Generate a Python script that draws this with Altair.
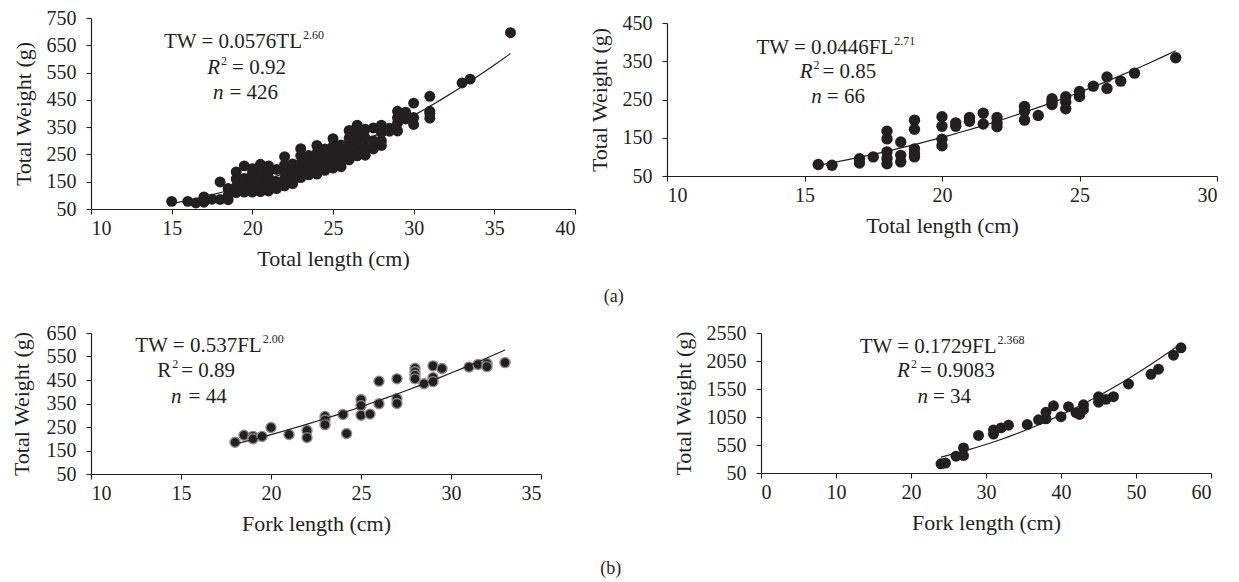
import altair as alt
import pandas as pd

INK = "#231f20"
SERIF = "Liberation Serif"

# ---- Panel (a) left: Total length vs Total weight (n = 426) ----
tl1_len = [15.0, 16.0, 16.5, 17.0, 17.0, 17.5, 18.0, 18.0, 18.5, 18.5, 18.5,
           19.0, 19.0, 19.0, 19.0, 19.5, 19.5, 19.5, 19.5,
           20.0, 20.0, 20.0, 20.0, 20.0, 20.5, 20.5, 20.5, 20.5, 20.5,
           21.0, 21.0, 21.0, 21.0, 21.0, 21.5, 21.5, 21.5,
           22.0, 22.0, 22.0, 22.0, 22.0, 22.5, 22.5, 22.5, 22.5,
           23.0, 23.0, 23.0, 23.0, 23.0, 23.5, 23.5, 23.5, 23.5,
           24.0, 24.0, 24.0, 24.0, 24.0, 24.5, 24.5, 24.5, 24.5,
           25.0, 25.0, 25.0, 25.0, 25.0, 25.5, 25.5, 25.5, 25.5,
           26.0, 26.0, 26.0, 26.0, 26.0, 26.5, 26.5, 26.5, 26.5, 26.5,
           27.0, 27.0, 27.0, 27.0, 27.5, 27.5, 27.5,
           28.0, 28.0, 28.0, 28.0, 28.5, 28.5,
           29.0, 29.0, 29.0, 29.0, 29.5, 29.5,
           30.0, 30.0, 30.0, 31.0, 31.0, 31.0, 31.0,
           33.0, 33.5, 36.0]
tw1_wt = [78, 78, 72, 75, 94, 86, 85, 149, 84, 100, 125,
          110, 132, 160, 186, 112, 136, 162, 208,
          112, 132, 156, 180, 198, 114, 140, 165, 190, 214,
          116, 140, 165, 186, 208, 125, 150, 195,
          135, 160, 185, 212, 242, 143, 165, 190, 215,
          165, 190, 215, 245, 271, 175, 198, 222, 246,
          178, 205, 230, 255, 283, 192, 220, 245, 270,
          200, 225, 252, 280, 308, 205, 235, 260, 285,
          230, 255, 285, 310, 338, 245, 272, 300, 330, 357,
          247, 276, 310, 342, 270, 300, 347,
          283, 300, 330, 357, 335, 346,
          336, 365, 385, 408, 380, 405,
          360, 385, 438, 383, 408, 400, 463,
          512, 526, 696]

# ---- Panel (a) right: Total length vs Total weight (n = 66) ----
tl2_len = [15.5, 16.0, 17.0, 17.0, 17.5, 18.0, 18.0, 18.0, 18.0, 18.0,
           18.5, 18.5, 18.5, 19.0, 19.0, 19.0, 19.0, 19.0,
           20.0, 20.0, 20.0, 20.0, 20.5, 20.5, 21.0, 21.0, 21.5, 21.5,
           22.0, 22.0, 22.0, 23.0, 23.0, 23.0, 23.5,
           24.0, 24.0, 24.0, 24.5, 24.5, 24.5, 25.0, 25.0, 25.5,
           26.0, 26.0, 26.5, 27.0, 28.5]
tw2_wt = [80, 78, 95, 84, 100, 167, 147, 113, 96, 82,
          139, 104, 87, 196, 172, 121, 108, 100,
          205, 180, 146, 129, 189, 180, 203, 193, 214, 186,
          203, 189, 179, 232, 219, 196, 208,
          252, 243, 237, 257, 243, 226, 271, 258, 285,
          309, 279, 298, 319, 359]

# ---- Panel (b) left: Fork length vs Total weight (n = 44) ----
fl3_len = [18.0, 18.5, 19.0, 19.0, 19.5, 20.0, 21.0, 22.0, 22.0,
           23.0, 23.0, 23.0, 24.0, 24.2, 25.0, 25.0, 25.0, 25.5,
           26.0, 26.0, 27.0, 27.0, 27.0, 28.0, 28.0, 28.0, 28.0,
           28.5, 29.0, 29.0, 29.0, 29.5, 31.0, 31.5, 32.0, 32.0, 33.0]
tw3_wt = [185, 215, 210, 200, 210, 248, 218, 235, 205,
          295, 280, 260, 303, 222, 367, 341, 300, 305,
          445, 349, 455, 370, 350, 500, 485, 470, 455,
          434, 510, 460, 443, 499, 505, 516, 520, 507, 524]

# ---- Panel (b) right: Fork length vs Total weight (n = 34) ----
fl4_len = [24.0, 24.6, 26.0, 27.0, 27.0, 29.0, 31.0, 31.0, 32.0, 33.0,
           35.5, 37.0, 38.0, 38.0, 39.0, 40.0, 41.0, 42.0, 42.5, 43.0, 43.0,
           45.0, 45.0, 46.0, 47.0, 49.0, 52.0, 53.0, 55.0, 56.0]
tw4_wt = [215, 228, 350, 497, 360, 721, 820, 745, 856, 903,
          915, 1000, 1135, 1018, 1250, 1055, 1234, 1126, 1095, 1268, 1185,
          1410, 1315, 1365, 1413, 1640, 1813, 1903, 2154, 2286]

# axis ticks
x1_ticks = [10, 15, 20, 25, 30, 35, 40]
y1_ticks = [50, 150, 250, 350, 450, 550, 650, 750]
x2_ticks = [10, 15, 20, 25, 30]
y2_ticks = [50, 150, 250, 350, 450]
x3_ticks = [10, 15, 20, 25, 30, 35]
y3_ticks = [50, 150, 250, 350, 450, 550, 650]
x4_ticks = [0, 10, 20, 30, 40, 50, 60]
y4_ticks = [50, 550, 1050, 1550, 2050, 2550]


def note(x, y, text, align="left", dx=0, dy=0, size=21, style="normal"):
    return dict(x=x, y=y, t=text, align=align, dx=dx, dy=dy, size=size, style=style)


def equation_notes(jx, y1, coef, sup, rx, y2, r_style, r_val, r_dx, nx, y3, n_val, n_dx):
    return [
        note(jx, y1, coef, align="right"),
        note(jx, y1, sup, align="left", dx=1, dy=-9, size=12),
        note(rx, y2, "R", align="right", style=r_style),
        note(rx, y2, "2", align="left", dx=1, dy=-9, size=12),
        note(rx, y2, "= " + r_val, align="left", dx=r_dx),
        note(nx, y3, "n", align="right", style="italic"),
        note(nx, y3, "= " + n_val, align="left", dx=n_dx),
    ]


def panel(xs, ys, xdom, ydom, xticks, yticks, w, h, xtitle, notes,
          stroke=None, size=120, yrange=None, ytitle_pad=11):
    df = pd.DataFrame({"x": xs, "y": ys})
    xenc = alt.X("x:Q", scale=alt.Scale(domain=xdom, nice=False, zero=False),
                 axis=alt.Axis(values=xticks, title=xtitle))
    yscale = (alt.Scale(domain=ydom, nice=False, zero=False, range=yrange)
              if yrange else alt.Scale(domain=ydom, nice=False, zero=False))
    yenc = alt.Y("y:Q", scale=yscale,
                 axis=alt.Axis(values=yticks, title="Total Weight (g)",
                               format="d", titlePadding=ytitle_pad))
    if stroke:
        pts = alt.Chart(df).mark_circle(size=size, fill=INK, fillOpacity=1,
                                        stroke=stroke, strokeWidth=1.4,
                                        opacity=1)
    else:
        pts = alt.Chart(df).mark_circle(size=size, color=INK, opacity=1)
    pts = pts.encode(x=xenc, y=yenc)
    fit = (alt.Chart(df)
           .transform_regression("x", "y", method="pow")
           .mark_line(color=INK, strokeWidth=1.2)
           .encode(x=xenc, y=yenc))
    layers = [pts, fit]
    for n in notes:
        tdf = pd.DataFrame({"x": [n["x"]], "y": [n["y"]], "t": [n["t"]]})
        layers.append(
            alt.Chart(tdf).mark_text(align=n["align"], baseline="alphabetic",
                                     dx=n["dx"], dy=n["dy"], font=SERIF,
                                     fontSize=n["size"], fontStyle=n["style"],
                                     color=INK)
            .encode(x=xenc, y=yenc, text="t:N"))
    return alt.layer(*layers).properties(width=w, height=h)


p1 = panel(tl1_len, tw1_wt, [10, 40], [50, 750], x1_ticks, y1_ticks, 484, 191,
           "Total length (cm)",
           equation_notes(23.08, 640, "TW = 0.0576TL", "2.60",
                          18.0, 546, "italic", "0.92", 12,
                          18.21, 454, "426", 6))
p2 = panel(tl2_len, tw2_wt, [10, 30], [50, 450], x2_ticks, y2_ticks, 550, 158,
           "Total length (cm)",
           equation_notes(18.23, 369, "TW = 0.0446FL", "2.71",
                          15.29, 305, "italic", "0.85", 10,
                          15.63, 240, "66", 5),
           size=130, yrange=[158, 5])
p3 = panel(fl3_len, tw3_wt, [10, 35], [50, 650], x3_ticks, y3_ticks, 450, 141,
           "Fork length (cm)",
           equation_notes(19.48, 568, "TW = 0.537FL", "2.00",
                          14.46, 461, "normal", "0.89", 10,
                          15.03, 352, "44", 7),
           stroke="#8a8a8a", size=100, ytitle_pad=13)
p4 = panel(fl4_len, tw4_wt, [0, 60], [50, 2550], x4_ticks, y4_ticks, 450, 140,
           "Fork length (cm)",
           equation_notes(31.4, 2191, "TW = 0.1729FL", "2.368",
                          19.85, 1756, "italic", "0.9083", 10,
                          22.25, 1296, "34", 5))

row_a = alt.hconcat(p1, p2, spacing=12).properties(
    title=alt.TitleParams("(a)", orient="bottom", anchor="middle", offset=19,
                          dx=-1, fontSize=18))
row_b = alt.hconcat(p3, p4, spacing=130).properties(
    title=alt.TitleParams("(b)", orient="bottom", anchor="middle", offset=26,
                          dx=0, fontSize=18))

chart = (alt.vconcat(row_a, row_b, spacing=17)
         .properties(padding={"left": 2, "top": 0, "right": 0, "bottom": 0})
         .configure_view(stroke=None)
         .configure_axis(grid=False, domainColor=INK, domainWidth=1.2,
                         tickColor=INK, tickSize=5, tickWidth=1.1,
                         labelFont=SERIF, labelFontSize=20, labelColor=INK,
                         titleFont=SERIF, titleFontSize=22,
                         titleFontWeight="normal", titleColor=INK)
         .configure_axisX(labelPadding=4, titlePadding=10)
         .configure_axisY(labelPadding=10)
         .configure_title(font=SERIF, fontWeight="normal", color=INK))

chart.save("out.html", embed_options={"renderer": "svg", "actions": False})
